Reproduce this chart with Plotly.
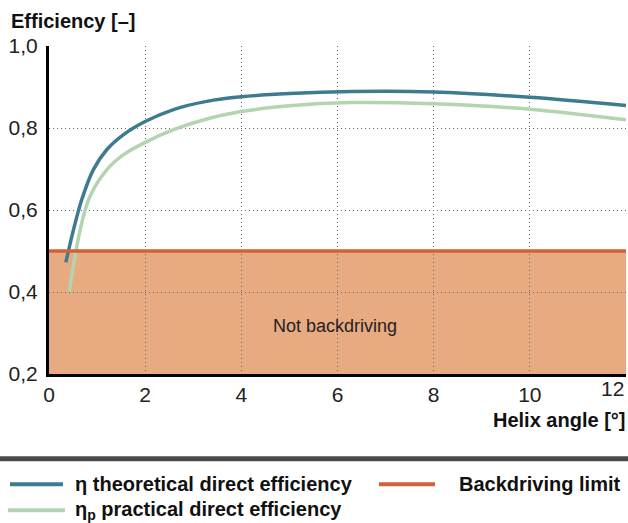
import plotly.graph_objects as go

# Data
theo_x = [0.35, 0.51, 0.68, 0.92, 1.20, 1.55, 2.0, 2.59, 3.28, 4.0, 5.0, 6.3, 8.0, 10.0, 12.0]
theo_y = [0.472, 0.552, 0.625, 0.698, 0.747, 0.784, 0.816, 0.845, 0.865, 0.876, 0.884, 0.889, 0.888, 0.875, 0.855]

prac_x = [0.42, 0.54, 0.68, 0.85, 1.20, 1.55, 2.0, 2.59, 3.28, 4.0, 5.0, 6.3, 8.0, 10.0, 12.0]
prac_y = [0.400, 0.487, 0.568, 0.633, 0.698, 0.735, 0.765, 0.796, 0.822, 0.840, 0.854, 0.862, 0.859, 0.846, 0.820]

limit_x = [0, 12]
limit_y = [0.5, 0.5]
backdrive_limit = 0.5

x_ticks = [0, 2, 4, 6, 8, 10, 12]
x_tick_text = ["0", "2", "4", "6", "8", "10", "12"]
y_ticks = [0.2, 0.4, 0.6, 0.8, 1.0]
y_tick_text = ["0,2", "0,4", "0,6", "0,8", "1,0"]

series_names = ["η theoretical direct efficiency", "η<sub>p</sub> practical direct efficiency", "Backdriving limit"]

BLUE = "#3e7a90"
GREEN = "#b3d4b0"
ORANGE = "#d0613a"
FILL = "#e8aa80"
FONT = "Liberation Sans"

fig = go.Figure()
fig.add_trace(go.Scatter(x=theo_x, y=theo_y, mode="lines", line=dict(color=BLUE, width=3.5, shape="spline"),
                         name=series_names[0], showlegend=False))
fig.add_trace(go.Scatter(x=prac_x, y=prac_y, mode="lines", line=dict(color=GREEN, width=3.5, shape="spline"),
                         name=series_names[1], showlegend=False))
fig.add_trace(go.Scatter(x=limit_x, y=limit_y, mode="lines", line=dict(color=ORANGE, width=3.5),
                         name=series_names[2], showlegend=False))

# shaded not-backdriving region
fig.add_shape(type="rect", xref="x", yref="y", x0=limit_x[0], x1=limit_x[1], y0=y_ticks[0], y1=backdrive_limit,
              fillcolor=FILL, line=dict(width=0), layer="below")

L, R, T, B = 49, 2, 46, 148.5
W, H = 628, 523
pw, ph = W - L - R, H - T - B

def px(xp):
    return (xp - L) / pw

def py(yp):
    return (H - B - yp) / ph

# last x tick label, kept inside the page (right-aligned on its gridline)
fig.add_annotation(text=x_tick_text[-1], xref="x", yref="paper", x=x_ticks[-1], y=py(389.5),
                   xanchor="right", yanchor="middle", showarrow=False,
                   font=dict(family=FONT, size=21, color="#222"))

# separator bar
fig.add_shape(type="line", xref="paper", yref="paper", x0=px(0), x1=px(628), y0=py(459.5), y1=py(459.5),
              line=dict(color="#4a4a4a", width=5))

# legend (drawn below the separator)
legend_items = [
    (series_names[0], BLUE, 10, 63, 73, 485),
    (series_names[1], GREEN, 8, 65, 73, 511),
    (series_names[2], ORANGE, 379, 435, 457, 485),
]
for name, col, lx0, lx1, tx, ty in legend_items:
    fig.add_shape(type="line", xref="paper", yref="paper", x0=px(lx0), x1=px(lx1), y0=py(ty), y1=py(ty),
                  line=dict(color=col, width=4))
    fig.add_annotation(text="<b>" + name + "</b>", xref="paper", yref="paper", x=px(tx), y=py(ty),
                       xanchor="left", yanchor="middle", showarrow=False,
                       font=dict(family=FONT, size=20, color="#111"))

fig.add_annotation(text="<b>Efficiency [–]</b>", xref="paper", yref="paper", x=px(9), y=py(8),
                   xanchor="left", yanchor="top", showarrow=False, font=dict(family=FONT, size=20, color="#111"))
fig.add_annotation(text="<b>Helix angle [°]</b>", xref="paper", yref="paper", x=px(627), y=py(421),
                   xanchor="right", yanchor="middle", showarrow=False, font=dict(family=FONT, size=20, color="#111"))
fig.add_annotation(text="Not backdriving", xref="x", yref="y", x=5.95, y=0.316, showarrow=False,
                   font=dict(family=FONT, size=18, color="#222"))

fig.update_layout(
    width=W, height=H,
    margin=dict(l=L, r=R, t=T, b=B, autoexpand=False),
    paper_bgcolor="white", plot_bgcolor="white",
    font=dict(family=FONT, size=21, color="#222"),
    showlegend=False,
)
fig.update_xaxes(range=[0, 12], tickvals=x_ticks, ticktext=x_tick_text[:-1] + [""], automargin=False,
                 showline=True, linecolor="black", linewidth=3, showgrid=True, gridcolor="#666",
                 griddash="1px,3px", gridwidth=1.2, zeroline=False, ticks="", ticklen=0,
                 tickfont=dict(size=21, color="#222"))
fig.update_yaxes(range=[0.2, 1.0], tickvals=y_ticks, ticktext=y_tick_text, automargin=False,
                 showline=True, linecolor="black", linewidth=3, showgrid=True, gridcolor="#666",
                 griddash="1px,3px", gridwidth=1.2, zeroline=False, ticks="", ticklen=0,
                 tickfont=dict(size=21, color="#222"), ticklabelstandoff=4)

fig.write_html("out.html", post_script="document.body.style.margin='0';",
               config={"displayModeBar": False})
